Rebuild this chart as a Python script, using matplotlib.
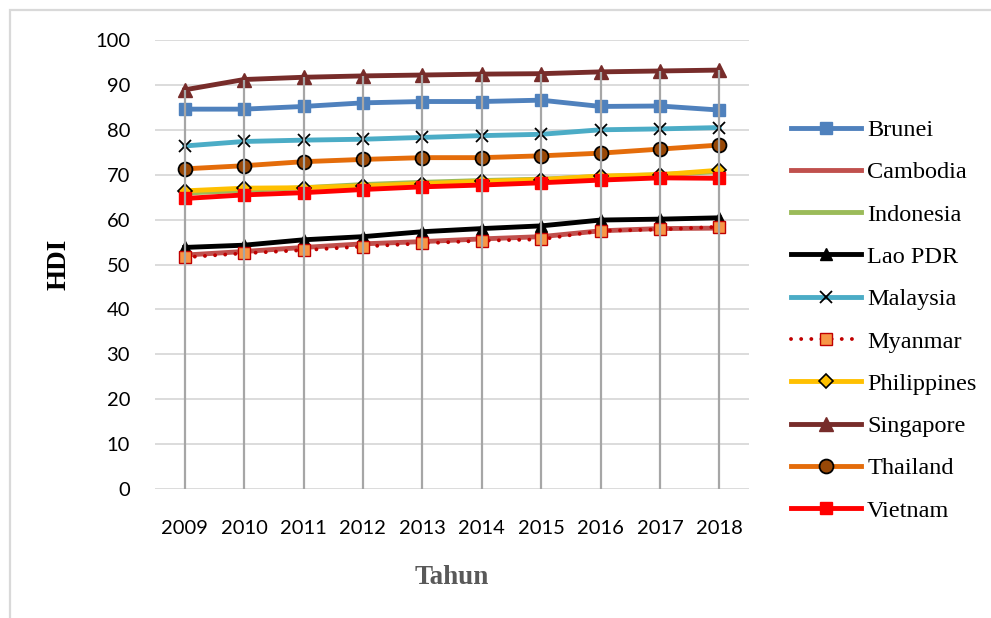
import matplotlib
matplotlib.use("Agg")
import matplotlib.pyplot as plt
from matplotlib.patches import Rectangle

years = ["2009", "2010", "2011", "2012", "2013", "2014", "2015", "2016", "2017", "2018"]

brunei = [84.6, 84.6, 85.2, 86.0, 86.3, 86.3, 86.6, 85.2, 85.3, 84.4]
cambodia = [52.1, 52.9, 53.8, 54.6, 55.1, 55.7, 56.2, 57.5, 58.0, 58.1]
indonesia = [65.9, 66.5, 67.1, 67.8, 68.3, 68.7, 69.0, 69.6, 70.0, 70.7]
lao = [53.8, 54.3, 55.5, 56.2, 57.3, 58.0, 58.6, 59.9, 60.1, 60.4]
malaysia = [76.4, 77.4, 77.7, 77.9, 78.3, 78.7, 79.0, 80.0, 80.2, 80.5]
myanmar = [51.6, 52.5, 53.2, 54.0, 54.7, 55.3, 55.6, 57.5, 57.8, 58.4]
philippines = [66.4, 67.0, 67.1, 67.5, 68.0, 68.5, 68.9, 69.7, 70.0, 71.0]
singapore = [88.9, 91.2, 91.7, 92.0, 92.2, 92.4, 92.5, 92.9, 93.1, 93.3]
thailand = [71.3, 72.0, 72.9, 73.4, 73.8, 73.8, 74.2, 74.8, 75.7, 76.6]
vietnam = [64.7, 65.5, 66.0, 66.7, 67.3, 67.7, 68.2, 68.8, 69.3, 69.2]

fig = plt.figure(figsize=(9.91, 6.18), dpi=100)
ax = fig.add_axes([155 / 991, 1 - 489 / 618, 594 / 991, 449 / 618])

x = list(range(len(years)))
LW = 3.5

ax.plot(x, brunei, color="#4f81bd", lw=LW, marker="s", ms=9, mfc="#4f81bd", mec="#4f81bd", label="Brunei")
ax.plot(x, cambodia, color="#c0504d", lw=LW, label="Cambodia")
ax.plot(x, indonesia, color="#9bbb59", lw=LW, label="Indonesia")
ax.plot(x, lao, color="black", lw=LW, marker="^", ms=9, mfc="black", mec="black", label="Lao PDR")
ax.plot(x, malaysia, color="#4bacc6", lw=LW, marker="x", ms=9, mec="black", mew=1.3, label="Malaysia")
ax.plot(x, myanmar, color="#c00000", lw=2.8, linestyle=(0, (0.01, 2.6)), dash_capstyle="round",
        marker="s", ms=9, mfc="#f79646", mec="#c00000", mew=1.0, label="Myanmar")
ax.plot(x, philippines, color="#ffc000", lw=LW, marker="D", ms=7, mfc="#ffc000", mec="black", mew=1.2, label="Philippines")
ax.plot(x, singapore, color="#772c2a", lw=LW, marker="^", ms=10, mfc="#772c2a", mec="#772c2a", label="Singapore")
ax.plot(x, thailand, color="#e46c0a", lw=LW, marker="o", ms=10, mfc="#984807", mec="black", mew=1.3, label="Thailand")
ax.plot(x, vietnam, color="#ff0000", lw=LW, marker="s", ms=9, mfc="#ff0000", mec="#ff0000", label="Vietnam")

# drop lines from the highest series down to the axis
tops = [max(v) for v in zip(brunei, cambodia, indonesia, lao, malaysia, myanmar,
                            philippines, singapore, thailand, vietnam)]
ax.vlines(x, 0, tops, color="#a6a6a6", lw=1.6, zorder=5)

ax.set_xlim(-0.5, len(years) - 0.5)
ax.set_ylim(0, 100)
ax.set_yticks(range(0, 101, 10))
ax.set_xticks(x)
ax.set_xticklabels(years)
ax.yaxis.grid(True, color="#d9d9d9", lw=1.3)
ax.set_axisbelow(True)
for s in ax.spines.values():
    s.set_visible(False)
ax.tick_params(length=0, labelsize=14.5, colors="black")
ax.tick_params(axis="y", pad=18)
ax.tick_params(axis="x", pad=22)
for lab in ax.get_xticklabels() + ax.get_yticklabels():
    lab.set_fontfamily("Lato")

fig.text(59 / 991, 1 - 264 / 618, "HDI", rotation=90, ha="center", va="center",
         fontsize=19.5, fontweight="bold", family="Liberation Serif", color="black")
fig.text(452 / 991, 1 - 578 / 618, "Tahun", ha="center", va="center",
         fontsize=19.5, fontweight="bold", family="Liberation Serif", color="#595959")

fig.legend(loc="upper left", bbox_to_anchor=(791 / 991, 1 - 119 / 618), frameon=False,
           prop={"family": "Liberation Serif", "size": 17.5}, handlelength=2.88,
           handletextpad=0.25, labelspacing=0.835, borderpad=0, borderaxespad=0)

fig.patches.append(Rectangle((10 / 991, -0.1), 1.2, (608 / 618) + 0.1, transform=fig.transFigure,
                             fill=False, edgecolor="#d9d9d9", lw=1.6))

fig.savefig("out.png", dpi=100)
